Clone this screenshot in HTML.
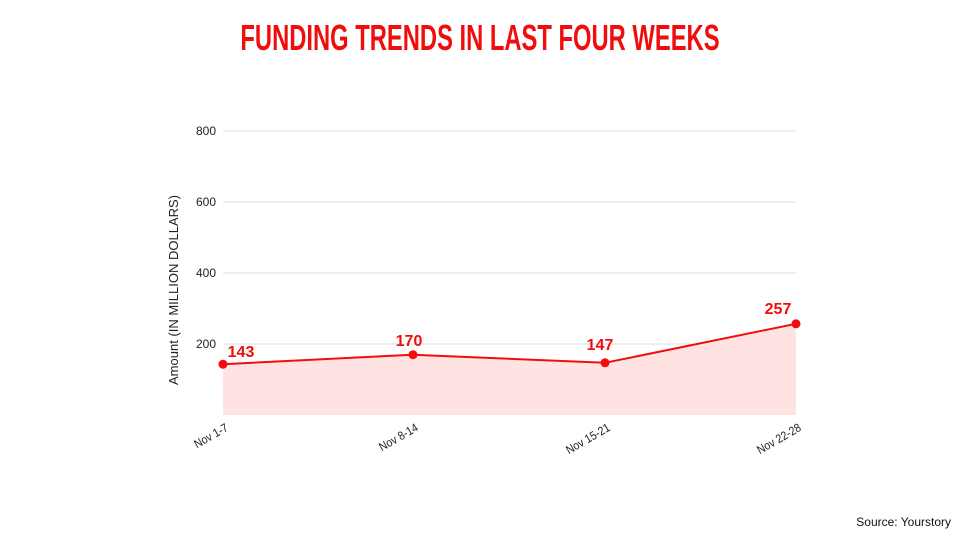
<!DOCTYPE html>
<html><head><meta charset="utf-8"><style>
html,body{margin:0;padding:0;background:#fff;width:960px;height:540px;overflow:hidden}
</style></head><body>
<svg width="960" height="540" xmlns="http://www.w3.org/2000/svg" font-family="Liberation Sans, sans-serif">
<text x="480" y="50" text-anchor="middle" font-size="36" font-weight="bold" fill="#f20d0d" transform="translate(480,0) scale(0.66,1) translate(-480,0)">FUNDING TRENDS IN LAST FOUR WEEKS</text>
<g stroke="#dddddd" stroke-width="1">
<line x1="223" y1="131" x2="796" y2="131"/>
<line x1="223" y1="202" x2="796" y2="202"/>
<line x1="223" y1="273" x2="796" y2="273"/>
<line x1="223" y1="344" x2="796" y2="344"/>
</g>
<g font-size="12" fill="#222" text-anchor="end">
<text x="216" y="135">800</text>
<text x="216" y="206">600</text>
<text x="216" y="277">400</text>
<text x="216" y="348">200</text>
</g>
<text transform="translate(178,290) rotate(-90)" font-size="13" fill="#222" text-anchor="middle">Amount (IN MILLION DOLLARS)</text>
<polygon points="223,364.2 413,354.7 605,362.8 796,323.8 796,415 223,415" fill="#ffe3e3"/>
<polyline points="223,364.2 413,354.7 605,362.8 796,323.8" fill="none" stroke="#f20d0d" stroke-width="2"/>
<g fill="#f20d0d">
<circle cx="223" cy="364.2" r="4.5"/><circle cx="413" cy="354.7" r="4.5"/>
<circle cx="605" cy="362.8" r="4.5"/><circle cx="796" cy="323.8" r="4.5"/>
</g>
<g font-size="16" font-weight="bold" fill="#f20d0d" text-anchor="middle">
<text x="241" y="357">143</text>
<text x="409" y="346">170</text>
<text x="600" y="350">147</text>
<text x="778" y="314">257</text>
</g>
<g font-size="12" fill="#222" text-anchor="end">
<text transform="translate(229,430) rotate(-30) scale(0.88,1)">Nov 1-7</text>
<text transform="translate(419,430) rotate(-30) scale(0.88,1)">Nov 8-14</text>
<text transform="translate(611,430) rotate(-30) scale(0.88,1)">Nov 15-21</text>
<text transform="translate(802,430) rotate(-30) scale(0.88,1)">Nov 22-28</text>
</g>
<text x="951" y="526" text-anchor="end" font-size="12" fill="#111">Source: Yourstory</text>
</svg>
</body></html>
